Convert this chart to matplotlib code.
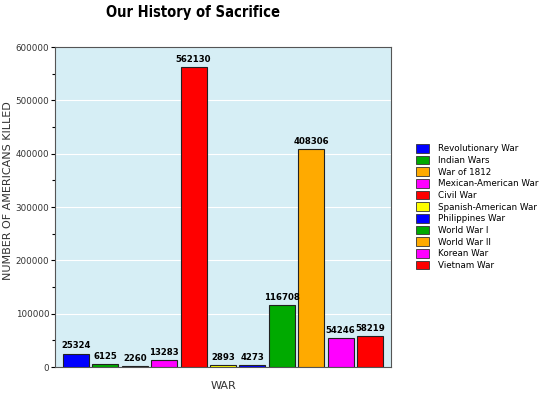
import matplotlib
matplotlib.use("Agg")
import matplotlib.pyplot as plt
from matplotlib.patches import Patch
from matplotlib.ticker import MultipleLocator

wars = ["Revolutionary War", "Indian Wars", "War of 1812", "Mexican-American War",
        "Civil War", "Spanish-American War", "Philippines War", "World War I",
        "World War II", "Korean War", "Vietnam War"]
killed = [25324, 6125, 2260, 13283, 562130, 2893, 4273, 116708, 408306, 54246, 58219]
colors = ["#0000ff", "#00aa00", "#ffaa00", "#ff00ff", "#ff0000", "#ffff00",
          "#0000ff", "#00aa00", "#ffaa00", "#ff00ff", "#ff0000"]
yticks = [0, 100000, 200000, 300000, 400000, 500000, 600000]

fig = plt.figure(figsize=(5.44, 3.94), dpi=100)
ax = fig.add_axes([0.1011, 0.0685, 0.6177, 0.8122])
ax.set_facecolor("#d6eef5")
x = list(range(len(wars)))
ax.bar(x, killed, width=0.88, color=colors, edgecolor="#222222", linewidth=0.8, zorder=3)
for xi, v in zip(x, killed):
    ax.text(xi, v + 6000, str(v), ha="center", va="bottom", fontsize=6.8,
            fontweight="bold", fontstretch="condensed", zorder=4)
ax.set_xlim(-0.71, len(wars) - 1 + 0.71)
ax.set_ylim(0, 600000)
ax.set_yticks(yticks)
ax.set_yticklabels([str(t) for t in yticks], fontsize=6.3, color="#333333")
ax.yaxis.set_minor_locator(MultipleLocator(50000))
ax.tick_params(axis="y", which="major", length=3, width=0.8, pad=1)
ax.tick_params(axis="y", which="minor", length=2, width=0.8)
ax.set_xticks([])
ax.grid(axis="y", color="white", linewidth=0.8, zorder=1)
for s in ax.spines.values():
    s.set_color("#555555")
    s.set_linewidth(0.8)
ax.set_ylabel("NUMBER OF AMERICANS KILLED", fontsize=8, color="#333333")
ax.yaxis.set_label_coords(-0.125, 0.55)
ax.set_xlabel("WAR", fontsize=8, color="#333333", labelpad=10)

fig.text(193 / 544, 1 - 12 / 394, "Our History of Sacrifice", ha="center", va="center",
         fontsize=10.5, fontweight="bold", fontstretch="condensed")

handles = [Patch(facecolor=c, edgecolor="#333333", linewidth=0.6) for c in colors]
fig.legend(handles, wars, loc="upper left", bbox_to_anchor=(416 / 544, 1 - 144 / 394),
           frameon=False, fontsize=6.3, handlelength=1.5, handleheight=1.15,
           labelspacing=0.27, handletextpad=1.0, borderaxespad=0, borderpad=0)

fig.savefig("out.png", dpi=100)
